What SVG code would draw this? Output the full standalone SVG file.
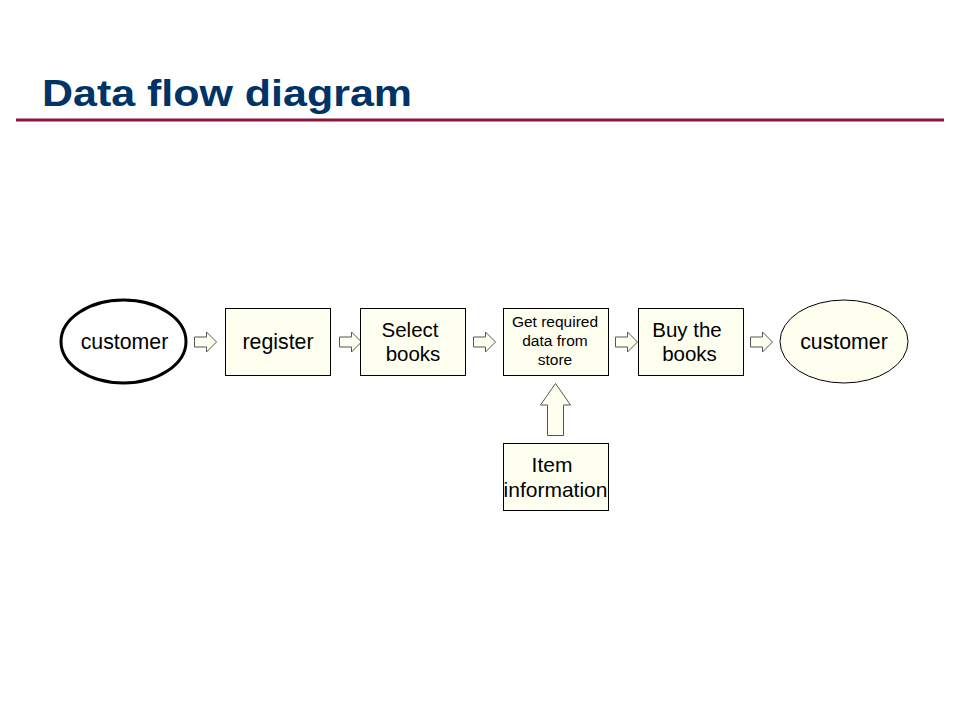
<svg xmlns="http://www.w3.org/2000/svg" width="960" height="720" viewBox="0 0 960 720">
<style>
.t{font-family:"Liberation Sans",Arial,sans-serif;fill:#000;text-anchor:middle}
.box{fill:#FFFFF0;stroke:#000;stroke-width:1}
.arr{fill:#FFFFF0;stroke:#555;stroke-width:1}
</style>
<defs>
<path id="ra" d="M0,-5 H12 V-10 L22,0 L12,10 V5 H0 Z"/>
</defs>
<rect width="960" height="720" fill="#fff"/>
<text x="42" y="106" font-family="Liberation Sans,Arial,sans-serif" font-weight="bold" font-size="37" fill="#003366" textLength="370" lengthAdjust="spacingAndGlyphs">Data flow diagram</text>
<line x1="16" y1="120" x2="944" y2="120" stroke="#8B1538" stroke-width="3"/>
<g id="connectors">
<use href="#ra" class="arr" transform="translate(194.5,342)"/>
<use href="#ra" class="arr" transform="translate(339.5,342)"/>
<use href="#ra" class="arr" transform="translate(473.5,342)"/>
<use href="#ra" class="arr" transform="translate(615.5,342)"/>
<use href="#ra" class="arr" transform="translate(750.5,342)"/>
<path class="arr" d="M547.5,435.5 V405 H540.5 L555.5,383.5 L570.5,405 H563.5 V435.5 Z"/>
</g>
<g id="customer1">
<ellipse cx="123.5" cy="341.5" rx="62.5" ry="41.5" fill="#fff" stroke="#000" stroke-width="3"/>
<text class="t" x="124.5" y="349" font-size="21.3">customer</text>
</g>
<g id="register">
<rect class="box" x="225.5" y="308.5" width="105" height="67"/>
<text class="t" x="278" y="349" font-size="21.3">register</text>
</g>
<g id="select">
<rect class="box" x="360.5" y="308.5" width="105" height="67"/>
<text class="t" x="410" y="337" font-size="20.5">Select</text>
<text class="t" x="413" y="361" font-size="20.5">books</text>
</g>
<g id="getdata">
<rect class="box" x="503.5" y="308.5" width="105" height="67"/>
<text class="t" x="555" y="327" font-size="15.5">Get required</text>
<text class="t" x="555" y="346" font-size="15.5">data from</text>
<text class="t" x="555" y="365" font-size="15.5">store</text>
</g>
<g id="buy">
<rect class="box" x="638.5" y="308.5" width="105" height="67"/>
<text class="t" x="687" y="337" font-size="20.5">Buy the</text>
<text class="t" x="689.5" y="361" font-size="20.5">books</text>
</g>
<g id="customer2">
<ellipse cx="844" cy="341.5" rx="64" ry="41.5" fill="#FFFFF0" stroke="#000" stroke-width="1"/>
<text class="t" x="844" y="349" font-size="21.3">customer</text>
</g>
<g id="item">
<rect class="box" x="503.5" y="443.5" width="105" height="67"/>
<text class="t" x="552" y="472" font-size="21">Item</text>
<text class="t" x="555.5" y="497" font-size="21">information</text>
</g>
</svg>
